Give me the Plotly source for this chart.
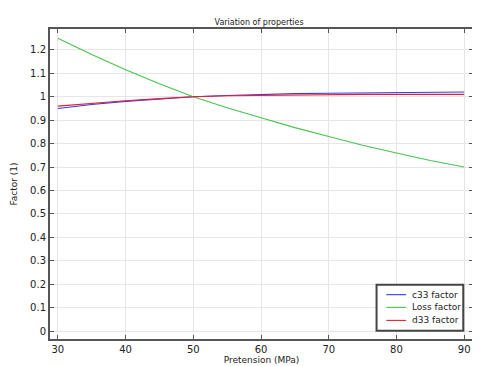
import plotly.graph_objects as go

pretension = [30, 35, 40, 45, 50, 55, 60, 65, 70, 75, 80, 85, 90]
c33_factor = [0.95, 0.967, 0.98, 0.991, 1.0, 1.005, 1.01, 1.013, 1.015, 1.017, 1.019, 1.02, 1.02]
loss_factor = [1.25, 1.18, 1.115, 1.055, 1.0, 0.953, 0.91, 0.868, 0.83, 0.793, 0.76, 0.728, 0.70]
d33_factor = [0.96, 0.972, 0.983, 0.992, 1.0, 1.004, 1.006, 1.008, 1.009, 1.01, 1.01, 1.01, 1.01]

series_names = ["c33 factor", "Loss factor", "d33 factor"]
series_colors = ["rgb(50,60,240)", "rgb(70,195,80)", "rgb(230,30,50)"]
series_values = [c33_factor, loss_factor, d33_factor]

fig = go.Figure()
for name, color, vals in zip(series_names, series_colors, series_values):
    fig.add_trace(go.Scatter(x=pretension, y=vals, mode="lines", name=name,
                             line=dict(color=color, width=1.1), showlegend=False))

axis_common = dict(showline=True, linecolor="#555", linewidth=2, mirror="ticks",
                   ticks="inside", ticklen=4, tickcolor="#555",
                   showgrid=True, gridcolor="#e6e6e6", gridwidth=1, zeroline=False,
                   tickfont=dict(size=10, color="#222"))

# custom compact legend (paper coordinates)
shapes = [dict(type="rect", xref="paper", yref="paper", x0=0.772, x1=0.977, y0=0.027, y1=0.175,
               line=dict(color="#444", width=2), fillcolor="white", layer="above")]
annotations = []
legend_y = [0.143, 0.102, 0.060]
for name, color, yy in zip(series_names, series_colors, legend_y):
    shapes.append(dict(type="line", xref="paper", yref="paper", x0=0.795, x1=0.842, y0=yy, y1=yy,
                       line=dict(color=color, width=1.1), layer="above"))
    annotations.append(dict(xref="paper", yref="paper", x=0.850, y=yy, text=name, showarrow=False,
                            xanchor="left", yanchor="middle", font=dict(size=9, color="#222")))

fig.update_layout(
    width=472, height=358,
    margin=dict(l=37, r=5, t=21, b=16),
    paper_bgcolor="white", plot_bgcolor="white",
    font=dict(family="DejaVu Sans", size=9, color="#222"),
    title=dict(text="Variation of properties", x=0.532, xanchor="center", y=0.961, yanchor="middle",
               font=dict(size=8, color="#222")),
    xaxis=dict(range=[28.84, 91.3], tickvals=[30, 40, 50, 60, 70, 80, 90],
               title=dict(text="Pretension (MPa)", standoff=0, font=dict(size=9)), **axis_common),
    yaxis=dict(range=[-0.034, 1.289], dtick=0.1, tick0=0,
               title=dict(text="Factor (1)", standoff=11, font=dict(size=9)), **axis_common),
    shapes=shapes, annotations=annotations,
    showlegend=False,
)

fig.write_html("out.html")
